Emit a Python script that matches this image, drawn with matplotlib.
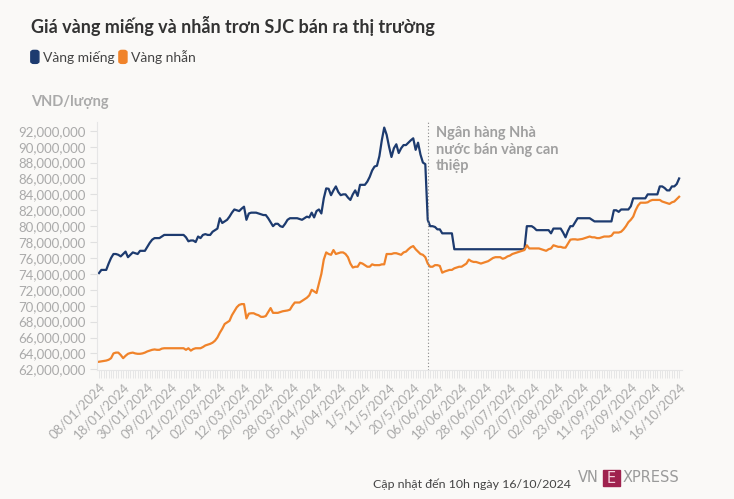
import numpy as np
import matplotlib.pyplot as plt
from matplotlib.patches import FancyBboxPatch, Rectangle

plt.rcParams['font.family'] = ['Lato', 'Noto Sans', 'DejaVu Sans']

# Nhan truc hoanh (moi 10 diem)
ngay = ["08/01/2024", "18/01/2024", "30/01/2024", "09/02/2024", "21/02/2024",
        "02/03/2024", "12/03/2024", "20/03/2024", "28/03/2024", "05/04/2024",
        "16/04/2024", "1/5/2024", "11/5/2024", "20/5/2024", "06/06/2024",
        "18/06/2024", "28/06/2024", "10/07/2024", "22/07/2024", "02/08/2024",
        "23/08/2024", "11/09/2024", "23/09/2024", "4/10/2024", "16/10/2024"]

# Gia ban ra, trieu dong/luong
mieng = [74.1, 74.5, 74.5, 74.5, 75.3, 76.0, 76.5, 76.5, 76.4, 76.2,
         76.5, 76.8, 76.1, 76.4, 76.7, 76.6, 76.5, 76.9, 76.9, 76.9,
         77.4, 77.9, 78.3, 78.5, 78.5, 78.5, 78.7, 78.9, 78.9, 78.9,
         78.9, 78.9, 78.9, 78.9, 78.9, 78.9, 78.6, 78.1, 78.2, 78.2,
         78.0, 78.7, 78.5, 78.9, 79.0, 78.9, 78.9, 79.3, 79.5, 79.7,
         81.0, 80.4, 80.6, 80.8, 81.2, 81.7, 82.1, 82.0, 81.9, 82.2,
         82.45, 80.8, 81.6, 81.7, 81.7, 81.7, 81.6, 81.5, 81.4, 81.4,
         81.0, 80.5, 80.0, 80.3, 80.3, 80.0, 79.9, 80.3, 80.8, 81.0,
         81.0, 81.0, 81.0, 80.9, 80.8, 81.0, 81.2, 81.1, 81.7, 81.1,
         81.9, 82.1, 81.6, 83.5, 84.75, 84.7, 83.9, 84.5, 85.0, 84.3,
         83.9, 84.0, 84.0, 83.6, 83.3, 84.0, 84.5, 83.8, 85.2, 85.2,
         85.2, 85.6, 86.2, 87.0, 87.5, 87.6, 88.8, 90.8, 92.4, 91.5,
         90.0, 88.7, 89.8, 90.3, 89.2, 89.8, 90.2, 90.2, 90.5, 90.8,
         91.05, 89.6, 90.5, 89.0, 88.0, 87.8, 80.8, 80.0, 80.0, 79.9,
         79.6, 79.6, 79.1, 79.1, 79.1, 79.1, 79.1, 77.1, 77.1, 77.1,
         77.1, 77.1, 77.1, 77.1, 77.1, 77.1, 77.1, 77.1, 77.1, 77.1,
         77.1, 77.1, 77.1, 77.1, 77.1, 77.1, 77.1, 77.1, 77.1, 77.1,
         77.1, 77.1, 77.1, 77.1, 77.1, 77.1, 77.1, 80.0, 80.0, 80.0,
         79.8, 79.5, 79.5, 79.5, 79.5, 79.5, 79.5, 79.1, 79.7, 79.7,
         79.7, 79.7, 79.2, 78.6, 79.4, 80.0, 80.0, 80.5, 81.0, 81.0,
         81.0, 81.0, 81.0, 81.0, 80.8, 80.6, 80.6, 80.6, 80.6, 80.6,
         80.6, 80.6, 80.6, 82.0, 82.0, 81.8, 82.1, 82.1, 82.1, 82.1,
         82.5, 83.5, 83.5, 83.5, 83.5, 83.5, 83.5, 84.0, 84.0, 84.0,
         84.0, 84.0, 85.0, 85.0, 84.8, 84.5, 84.5, 85.0, 85.0, 85.3,
         86.0]

nhan = [62.95, 63.0, 63.05, 63.1, 63.2, 63.4, 64.0, 64.1, 64.1, 63.8,
        63.4, 63.7, 63.95, 64.05, 64.1, 64.0, 63.95, 63.95, 64.0, 64.1,
        64.25, 64.35, 64.45, 64.5, 64.45, 64.45, 64.6, 64.65, 64.65, 64.65,
        64.65, 64.65, 64.65, 64.65, 64.65, 64.65, 64.45, 64.65, 64.35, 64.55,
        64.65, 64.65, 64.65, 64.8, 65.0, 65.1, 65.2, 65.35, 65.6, 66.0,
        66.6, 67.1, 67.7, 67.9, 68.1, 68.8, 69.3, 69.8, 70.1, 70.2,
        70.2, 68.4, 69.0, 69.05, 69.05, 68.9, 68.8, 68.6, 68.6, 68.7,
        69.2, 69.7, 69.1, 69.1, 69.1, 69.2, 69.3, 69.35, 69.4, 69.5,
        70.0, 70.4, 70.4, 70.4, 70.6, 70.8, 71.0, 71.3, 72.0, 71.8,
        71.6, 72.8, 74.0, 75.8, 76.7, 76.5, 76.4, 77.0, 76.5, 76.6,
        76.7, 76.7, 76.5, 76.1, 75.3, 74.8, 74.9, 74.9, 75.4, 75.3,
        75.1, 74.9, 74.9, 75.2, 75.1, 75.1, 75.1, 75.2, 75.2, 76.5,
        76.5, 76.5, 76.6, 76.6, 76.5, 76.4, 76.7, 76.8, 77.1, 77.35,
        77.5, 77.1, 76.8, 76.5, 76.4, 76.1, 75.3, 74.9, 74.9, 75.1,
        75.1, 75.0, 74.15, 74.3, 74.4, 74.5, 74.5, 74.7, 74.8, 74.9,
        74.9, 75.1, 75.3, 75.8, 75.6, 75.5, 75.5, 75.4, 75.3, 75.4,
        75.5, 75.6, 75.8, 76.0, 76.1, 76.1, 76.1, 75.9, 76.0, 76.2,
        76.3, 76.5, 76.6, 76.7, 76.8, 76.9, 77.0, 77.6, 77.2, 77.2,
        77.2, 77.2, 77.2, 77.1, 77.0, 76.9, 77.1, 77.2, 77.6, 77.5,
        77.4, 77.4, 77.3, 77.3, 77.8, 78.3, 78.35, 78.35, 78.3, 78.35,
        78.4, 78.5, 78.6, 78.7, 78.6, 78.6, 78.5, 78.5, 78.6, 78.7,
        78.7, 78.7, 78.8, 79.2, 79.2, 79.2, 79.3, 79.6, 80.0, 80.5,
        80.8, 81.2, 82.0, 82.6, 82.95, 82.95, 82.95, 83.0, 83.2, 83.3,
        83.3, 83.3, 83.3, 83.1, 83.0, 82.9, 82.8, 83.0, 83.1, 83.4,
        83.7]

BG = '#faf9f7'
XANH = '#1d3b6f'
CAM = '#f0832a'
XAM = '#aaaaaa'

x = np.arange(len(mieng))
gia_mieng = np.array(mieng) * 1e6
gia_nhan = np.array(nhan) * 1e6

fig = plt.figure(figsize=(7.34, 4.99), dpi=100, facecolor=BG)
ax = fig.add_axes([0.1322, 0.2591, 0.797, 0.4964], facecolor=BG)

ax.plot(x, gia_mieng, color=XANH, lw=1.6, solid_joinstyle='round')
ax.plot(x, gia_nhan, color=CAM, lw=1.6, solid_joinstyle='round')

# moc Ngan hang Nha nuoc can thiep
ax.axvline(136.2, color='#888888', lw=0.8, ls=(0, (1, 2)))
ax.text(139.3, 92.6e6, "Ngân hàng Nhà\nnước bán vàng can\nthiệp", fontsize=10.5,
        fontweight='bold', color='#a0a0a0', va='top', ha='left', linespacing=1.25)

ax.set_xlim(-0.8, 241.2)
ax.set_ylim(61.95e6, 93.1e6)
ax.set_yticks(np.arange(62e6, 92.1e6, 2e6))
ax.set_yticklabels(['{:,.0f}'.format(v) for v in np.arange(62e6, 92.1e6, 2e6)])
ax.set_xticks(np.arange(0, len(mieng), 10))
ax.set_xticklabels(ngay, rotation=45, ha='right', va='top', rotation_mode='anchor')
ax.set_xticks(x, minor=True)

for s in ['top', 'right']:
    ax.spines[s].set_visible(False)
for s in ['left', 'bottom']:
    ax.spines[s].set_color('#e6e6e6')
    ax.spines[s].set_linewidth(0.8)
ax.tick_params(axis='y', colors='#e0e0e0', labelcolor=XAM, labelsize=9.5, length=5, pad=3)
ax.tick_params(axis='x', which='both', colors='#e3e3e3', labelcolor=XAM, labelsize=9.5,
               length=6, width=0.6, pad=2)

fig.text(0.042, 0.947, "Giá vàng miếng và nhẫn trơn SJC bán ra thị trường", fontsize=13,
         fontweight='bold', color='#333333', va='center')

# chu giai
for xl, mau, ten in [(0.042, XANH, "Vàng miếng"), (0.162, CAM, "Vàng nhẫn")]:
    fig.patches.append(FancyBboxPatch((xl, 0.873), 0.011, 0.026, boxstyle='round,pad=0,rounding_size=0.004',
                                      transform=fig.transFigure, color=mau))
    fig.text(xl + 0.017, 0.885, ten, fontsize=10, color='#444444', va='center')

fig.text(0.042, 0.796, "VND/lượng", fontsize=10.5, fontweight='bold', color=XAM, va='center')

# chan trang + logo
fig.text(0.508, 0.03, "Cập nhật đến 10h ngày 16/10/2024", fontsize=8.9, color='#444444', va='center')
fig.text(0.787, 0.043, "VN", fontsize=10.5, color='#9a9a9a', va='center', family='DejaVu Sans')
fig.patches.append(Rectangle((0.8215, 0.026), 0.0232, 0.032, transform=fig.transFigure,
                             color='#9f224e'))
fig.text(0.8331, 0.042, "E", fontsize=10.5, color='#f3d0dc', va='center', ha='center',
         family='DejaVu Sans')
fig.text(0.848, 0.043, "XPRESS", fontsize=10.5, color='#9a9a9a', va='center', family='DejaVu Sans')

fig.savefig('out.png', dpi=100, facecolor=BG)
